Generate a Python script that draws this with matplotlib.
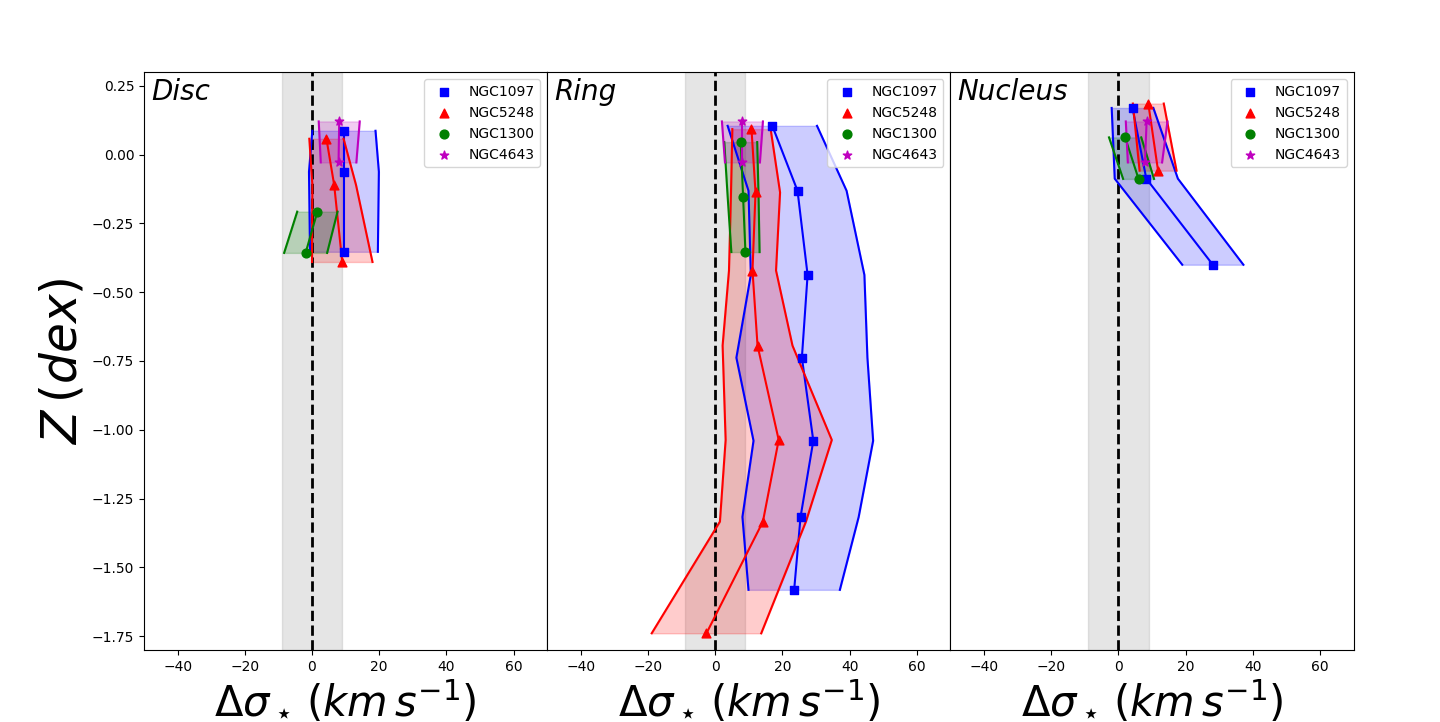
import numpy as np
import matplotlib
matplotlib.use("Agg")
import matplotlib.pyplot as plt

regions = ["Disc", "Ring", "Nucleus"]
galaxies = ["NGC1097", "NGC5248", "NGC1300", "NGC4643"]
colors = ["b", "r", "g", "m"]
markers = ["s", "^", "o", "*"]

# Disc
disc_1097_z = [0.087, -0.062, -0.353]
disc_1097_ds = [9.5, 9.5, 9.5]
disc_1097_err = [9.4, 10.4, 10.1]
disc_5248_z = [0.058, -0.110, -0.390]
disc_5248_ds = [4.3, 6.6, 9.0]
disc_5248_err = [5.1, 6.5, 9.0]
disc_1300_z = [-0.207, -0.357]
disc_1300_ds = [1.6, -1.9]
disc_1300_err = [6.0, 6.4]
disc_4643_z = [0.121, -0.028]
disc_4643_ds = [8.1, 7.9]
disc_4643_err = [6.1, 5.3]

# Ring
ring_1097_z = [0.105, -0.131, -0.437, -0.738, -1.040, -1.317, -1.582]
ring_1097_ds = [17.0, 24.5, 27.5, 25.8, 29.2, 25.4, 23.5]
ring_1097_err = [13.3, 14.6, 16.9, 19.5, 17.8, 17.3, 13.6]
ring_5248_z = [0.093, -0.137, -0.421, -0.694, -1.037, -1.334, -1.740]
ring_5248_ds = [10.8, 12.0, 11.1, 12.6, 18.9, 14.2, -2.6]
ring_5248_err = [5.7, 7.3, 7.0, 10.4, 15.8, 12.8, 16.3]
ring_1300_z = [0.046, -0.152, -0.354]
ring_1300_ds = [7.6, 8.3, 9.0]
ring_1300_err = [4.9, 4.6, 4.2]
ring_4643_z = [0.121, -0.028]
ring_4643_ds = [8.1, 8.1]
ring_4643_err = [6.1, 5.2]

# Nucleus
nuc_1097_z = [0.170, -0.087, -0.400]
nuc_1097_ds = [4.2, 8.3, 28.1]
nuc_1097_err = [6.2, 9.4, 9.1]
nuc_5248_z = [0.186, -0.058]
nuc_5248_ds = [8.9, 11.8]
nuc_5248_err = [4.6, 5.5]
nuc_1300_z = [0.063, -0.088]
nuc_1300_ds = [2.0, 6.0]
nuc_1300_err = [4.8, 4.6]
nuc_4643_z = [0.121, -0.028]
nuc_4643_ds = [8.4, 7.9]
nuc_4643_err = [6.2, 5.1]

panels = [
    [(disc_1097_z, disc_1097_ds, disc_1097_err), (disc_5248_z, disc_5248_ds, disc_5248_err),
     (disc_1300_z, disc_1300_ds, disc_1300_err), (disc_4643_z, disc_4643_ds, disc_4643_err)],
    [(ring_1097_z, ring_1097_ds, ring_1097_err), (ring_5248_z, ring_5248_ds, ring_5248_err),
     (ring_1300_z, ring_1300_ds, ring_1300_err), (ring_4643_z, ring_4643_ds, ring_4643_err)],
    [(nuc_1097_z, nuc_1097_ds, nuc_1097_err), (nuc_5248_z, nuc_5248_ds, nuc_5248_err),
     (nuc_1300_z, nuc_1300_ds, nuc_1300_err), (nuc_4643_z, nuc_4643_ds, nuc_4643_err)],
]

fig, axes = plt.subplots(1, 3, sharey=True, figsize=(14.4, 7.22), dpi=100)
fig.subplots_adjust(left=0.1, right=0.94, bottom=0.1, top=0.9, wspace=0)

for i, (ax, name, series) in enumerate(zip(axes, regions, panels)):
    ax.axvspan(-9, 9, color="gray", alpha=0.2)
    ax.axvline(0, color="k", ls="--", lw=2)
    for (z, ds, err), gal, c, mk in zip(series, galaxies, colors, markers):
        z = np.array(z)
        ds = np.array(ds)
        err = np.array(err)
        ax.fill_betweenx(z, ds - err, ds + err, color=c, alpha=0.2)
        ax.plot(ds - err, z, c, lw=1.5)
        ax.plot(ds + err, z, c, lw=1.5)
        ax.plot(ds, z, c, lw=1.5)
        ax.scatter(ds, z, marker=mk, c=c, s=40, label=gal, zorder=3)
    ax.text(0.018, 0.99, name, transform=ax.transAxes, fontsize=20,
            style="italic", va="top", ha="left")
    ax.legend(loc="upper right", fontsize=10, scatterpoints=1)
    ax.set_xlim(-50, 70)
    ax.set_xticks([-40, -20, 0, 20, 40, 60])
    ax.set_xlabel(r"$\Delta\sigma_\star\,(km\,s^{-1})$", fontsize=30)
    if i > 0:
        ax.tick_params(axis="y", left=False)

axes[0].set_ylim(-1.8, 0.3)
axes[0].set_yticks([0.25, 0.0, -0.25, -0.5, -0.75, -1.0, -1.25, -1.5, -1.75])
axes[0].set_ylabel(r"$Z\,(dex)$", fontsize=35)

plt.savefig("out.png")
